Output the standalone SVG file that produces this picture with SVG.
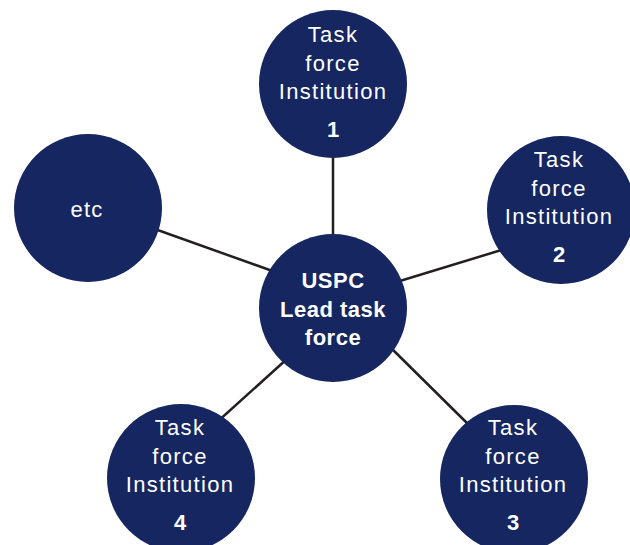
<svg xmlns="http://www.w3.org/2000/svg" width="630" height="545" viewBox="0 0 630 545">
<style>
.c{fill:#152661}
.t{font-family:"Liberation Sans",Arial,sans-serif;font-size:22px;fill:#ffffff;text-anchor:middle;letter-spacing:1.3px}
.n{font-family:"Liberation Sans",Arial,sans-serif;font-size:22px;font-weight:bold;fill:#ffffff;text-anchor:middle}
.b{font-family:"Liberation Sans",Arial,sans-serif;font-size:22px;font-weight:bold;fill:#ffffff;text-anchor:middle;letter-spacing:0.5px}
.l{stroke:#231f20;stroke-width:2.5;fill:none}
</style>
<rect width="630" height="545" fill="#ffffff"/>
<g id="connectors">
<line class="l" x1="333" y1="150" x2="333" y2="240"/>
<line class="l" x1="390" y1="284" x2="508" y2="248"/>
<line class="l" x1="152" y1="228" x2="278" y2="273"/>
<line class="l" x1="288" y1="358" x2="216" y2="423"/>
<line class="l" x1="388" y1="345" x2="472" y2="428"/>
</g>
<g id="node-center">
<circle class="c" cx="333" cy="308" r="74"/>
<text class="b" x="333" y="288">USPC</text>
<text class="b" x="333" y="317">Lead task</text>
<text class="b" x="333" y="345">force</text>
</g>
<g id="node-1">
<circle class="c" cx="333" cy="84" r="74"/>
<text class="t" x="333" y="42">Task</text>
<text class="t" x="333" y="71">force</text>
<text class="t" x="333" y="99">Institution</text>
<text class="n" x="333" y="137">1</text>
</g>
<g id="node-2">
<circle class="c" cx="561" cy="210" r="74"/>
<text class="t" x="559" y="167">Task</text>
<text class="t" x="559" y="196">force</text>
<text class="t" x="559" y="224">Institution</text>
<text class="n" x="559" y="262">2</text>
</g>
<g id="node-etc">
<circle class="c" cx="88" cy="208" r="74"/>
<text class="t" x="87" y="217">etc</text>
</g>
<g id="node-4">
<circle class="c" cx="181" cy="478" r="74"/>
<text class="t" x="180" y="435">Task</text>
<text class="t" x="180" y="464">force</text>
<text class="t" x="180" y="492">Institution</text>
<text class="n" x="180" y="530">4</text>
</g>
<g id="node-3">
<circle class="c" cx="514" cy="479" r="74"/>
<text class="t" x="513" y="435">Task</text>
<text class="t" x="513" y="464">force</text>
<text class="t" x="513" y="492">Institution</text>
<text class="n" x="513" y="530">3</text>
</g>
</svg>
